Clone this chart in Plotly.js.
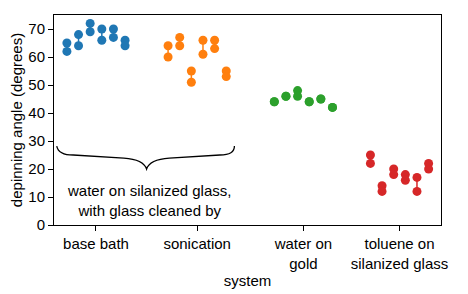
<!DOCTYPE html>
<html>
<head>
<meta charset="utf-8">
<script src="https://cdn.plot.ly/plotly-3.0.1.min.js"></script>
<style>html,body{margin:0;padding:0;background:#fff;}#chart{width:468px;height:294px;}</style>
</head>
<body>
<div id="chart"></div>
<script>
// categories and their positions on the x axis
const categories = ["base bath", "sonication", "water on<br>gold", "toluene on<br>silanized glass"];
const categoryPositions = [0, 1, 2.05, 3];
const colors = ["#1f77b4", "#ff7f0e", "#2ca02c", "#d62728"];

// each group: six samples, each measured twice (pairs joined by a line)
const baseBath   = [[65, 62], [68, 64], [72, 69], [70, 66], [70, 67], [66, 64]];
const sonication = [[64, 60], [67, 64], [55, 51], [66, 61], [66, 63], [55, 53]];
const waterGold  = [[44, 44], [46, 46], [48, 46], [44, 44], [45, 45], [42, 42]];
const tolueneSil = [[25, 22], [14, 12], [20, 18], [18, 16], [17, 12], [22, 20]];
const groups = [baseBath, sonication, waterGold, tolueneSil];

const spread = 0.115; // horizontal spacing between samples within a group

const traces = groups.map((g, gi) => {
  const xs = [], ys = [];
  g.forEach((pair, si) => {
    const x = categoryPositions[gi] + (si - (g.length - 1) / 2) * spread;
    pair.forEach(v => { xs.push(x); ys.push(v); });
    xs.push(null); ys.push(null);
  });
  return {
    x: xs, y: ys, type: "scatter", mode: "lines+markers",
    connectgaps: false,
    line: {color: colors[gi], width: 1.5},
    marker: {color: colors[gi], size: 9},
    hoverinfo: "skip", showlegend: false
  };
});

const font = {family: "Liberation Sans, Arial, sans-serif", size: 15, color: "#000"};

const layout = {
  width: 468, height: 294,
  margin: {l: 54, r: 27, t: 15, b: 69},
  paper_bgcolor: "#fff", plot_bgcolor: "#fff",
  font: font,
  showlegend: false,
  xaxis: {
    range: [-0.415, 3.41],
    tickmode: "array", tickvals: categoryPositions, ticktext: categories,
    showgrid: false, zeroline: false,
    showline: true, linecolor: "#000", linewidth: 1, mirror: true,
    ticks: "outside", ticklen: 5, tickcolor: "#000",
    tickfont: font,
    title: {text: "system", font: font, standoff: 4},
    automargin: false
  },
  yaxis: {
    range: [0, 75],
    tickmode: "array", tickvals: [0, 10, 20, 30, 40, 50, 60, 70],
    showgrid: false, zeroline: false,
    showline: true, linecolor: "#000", linewidth: 1, mirror: true,
    ticks: "outside", ticklen: 5, tickcolor: "#000",
    tickfont: font,
    title: {text: "depinning angle (degrees)", font: font, standoff: 2},
    automargin: false
  },
  shapes: [{
    type: "path", xref: "x", yref: "y",
    path: "M -0.388,28.2 Q -0.37,25.0 -0.225,25.0 L 0.275,23.9 Q 0.47,23.4 0.5,20.0 Q 0.53,23.4 0.725,23.9 L 1.225,25.0 Q 1.37,25.0 1.368,28.2",
    line: {color: "#000", width: 1.3}
  }],
  annotations: [{
    xref: "x", yref: "y", x: 0.52, y: 8.75,
    text: "water on silanized glass,<br>with glass cleaned by",
    showarrow: false, font: font, xanchor: "center", yanchor: "middle", align: "center"
  }]
};

Plotly.newPlot("chart", traces, layout, {displayModeBar: false, staticPlot: true});
</script>
</body>
</html>
